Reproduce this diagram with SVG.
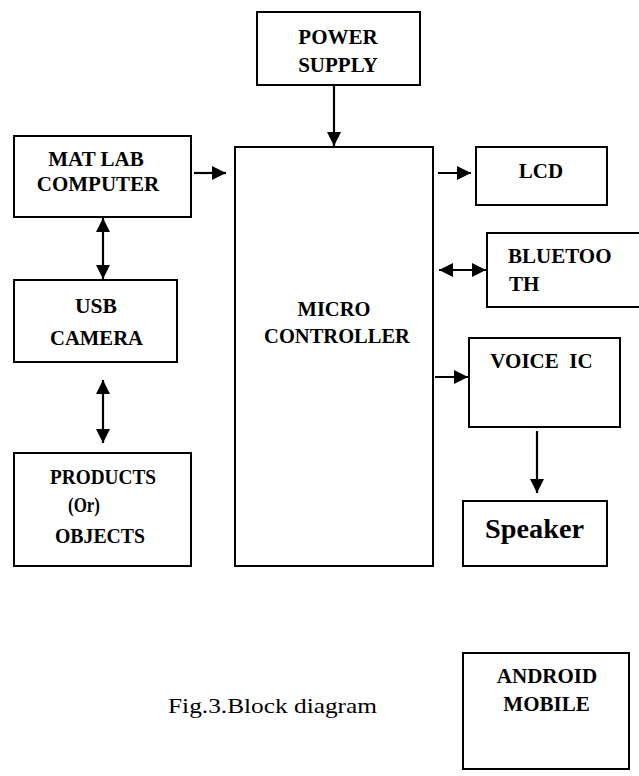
<svg xmlns="http://www.w3.org/2000/svg" width="639" height="776" viewBox="0 0 639 776">
<style>
  .box { fill: #fff; stroke: #000; stroke-width: 2; }
  .t { font-family: "Liberation Serif", "Times New Roman", serif; font-weight: bold; font-size: 21px; fill: #000; text-anchor: middle; }
  .c { font-family: "Liberation Serif", serif; font-weight: bold; font-size: 21px; fill: #000; text-anchor: middle; }
  .cap { font-family: "Liberation Serif", "Times New Roman", serif; font-size: 22px; fill: #000; }
  .ln { stroke: #000; stroke-width: 2.2; fill: none; }
</style>
<defs>
  <marker id="ah" markerUnits="userSpaceOnUse" markerWidth="14" markerHeight="14" refX="14" refY="7" orient="auto-start-reverse">
    <path d="M0,0 L14,7 L0,14 z" fill="#000"/>
  </marker>
</defs>
<rect width="639" height="776" fill="#fff"/>

<g id="power">
  <rect class="box" x="257" y="12" width="163" height="73"/>
  <text class="t" x="338" y="44">POWER</text>
  <text class="t" x="338" y="72">SUPPLY</text>
</g>
<g id="matlab">
  <rect class="box" x="14" y="136" width="177" height="81"/>
  <text class="t" x="96" y="166">MAT LAB</text>
  <text class="t" x="98" y="191">COMPUTER</text>
</g>
<g id="usb">
  <rect class="box" x="14" y="280" width="163" height="82"/>
  <text class="c" x="96" y="313" textLength="42" lengthAdjust="spacingAndGlyphs">USB</text>
  <text class="c" x="96.5" y="345" textLength="93" lengthAdjust="spacingAndGlyphs">CAMERA</text>
</g>
<g id="products">
  <rect class="box" x="14" y="453" width="177" height="113"/>
  <text class="c" x="103" y="484" textLength="106" lengthAdjust="spacingAndGlyphs">PRODUCTS</text>
  <text class="c" x="84" y="512" textLength="32" lengthAdjust="spacingAndGlyphs">(Or)</text>
  <text class="c" x="100" y="543" textLength="90" lengthAdjust="spacingAndGlyphs">OBJECTS</text>
</g>
<g id="micro">
  <rect class="box" x="235" y="147" width="198" height="419"/>
  <text class="t" x="334" y="316" style="font-size:20.5px">MICRO</text>
  <text class="t" x="337" y="343" style="font-size:20.5px">CONTROLLER</text>
</g>
<g id="lcd">
  <rect class="box" x="476" y="147" width="131" height="58"/>
  <text class="t" x="541" y="178">LCD</text>
</g>
<g id="bluetooth">
  <rect class="box" x="487" y="233" width="160" height="74"/>
  <text class="t" x="508" y="263" style="text-anchor:start">BLUETOO</text>
  <text class="t" x="509" y="291" style="text-anchor:start">TH</text>
</g>
<g id="voice">
  <rect class="box" x="469" y="338" width="151" height="89"/>
  <text class="t" x="541.5" y="368">VOICE&#160; IC</text>
</g>
<g id="speaker">
  <rect class="box" x="463" y="501" width="144" height="65"/>
  <text class="c" x="534.5" y="538" style="font-size:27px" textLength="99" lengthAdjust="spacingAndGlyphs">Speaker</text>
</g>
<g id="android">
  <rect class="box" x="463" y="653" width="166" height="116"/>
  <text class="t" x="547" y="683">ANDROID</text>
  <text class="t" x="546.5" y="711">MOBILE</text>
</g>

<g id="connectors">
  <line class="ln" x1="334" y1="85" x2="334" y2="146" marker-end="url(#ah)"/>
  <line class="ln" x1="194" y1="173" x2="226" y2="173" marker-end="url(#ah)"/>
  <line class="ln" x1="438" y1="173" x2="471" y2="173" marker-end="url(#ah)"/>
  <line class="ln" x1="439" y1="270" x2="486" y2="270" marker-start="url(#ah)" marker-end="url(#ah)"/>
  <line class="ln" x1="435" y1="377" x2="468" y2="377" marker-end="url(#ah)"/>
  <line class="ln" x1="537" y1="431" x2="537" y2="493" marker-end="url(#ah)"/>
  <line class="ln" x1="103" y1="218" x2="103" y2="279" marker-start="url(#ah)" marker-end="url(#ah)"/>
  <line class="ln" x1="103" y1="380" x2="103" y2="443" marker-start="url(#ah)" marker-end="url(#ah)"/>
</g>

<text class="cap" x="168" y="713" textLength="209" lengthAdjust="spacingAndGlyphs">Fig.3.Block diagram</text>
</svg>
